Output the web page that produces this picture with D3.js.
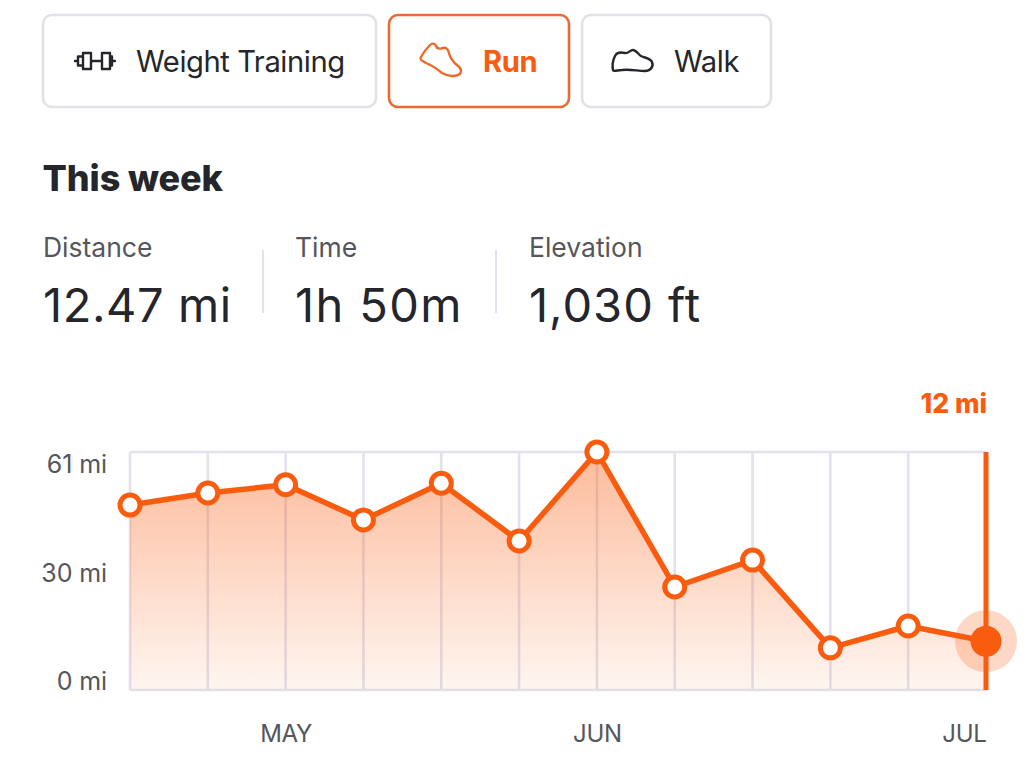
<!DOCTYPE html>
<html><head><meta charset="utf-8">
<script src="https://cdn.jsdelivr.net/npm/d3@7"></script>
<style>html,body{margin:0;padding:0;background:#fff;overflow:hidden}svg{display:block}text{font-family:Inter,"Noto Sans",sans-serif}</style>
</head><body><svg id="c" width="1024" height="766"></svg>
<script>
const weeks = d3.range(12);
const miles = [47.4, 50.5, 52.6, 43.6, 53.0, 38.2, 61.0, 26.4, 33.3, 10.8, 16.4, 12.5];
const yTicks = [0, 30, 61];
const yTickLabels = ["0 mi", "30 mi", "61 mi"];
const monthWeeks = [2, 6, 11];
const monthLabels = ["MAY", "JUN", "JUL"];
const stats = [["Distance", "12.47 mi"], ["Time", "1h 50m"], ["Elevation", "1,030 ft"]];
const tabs = ["Weight Training", "Run", "Walk"];
const currentLabel = "12 mi";

const ORANGE = "#f95c0f", INK = "#24262b", GREY = "#54565c", RULE = "#e2e2ee";
const svg = d3.select("#c");
const x = d3.scaleLinear().domain([0, 11]).range([130, 986]);
const y = d3.scaleLinear().domain([0, 61]).range([690, 452]);

// Tabs
const tabBox = [[43, 333], [389, 180], [582, 189]];
const tabText = [136, 483, 674];
tabs.forEach((t, i) => {
  const on = i === 1;
  svg.append("rect").attr("x", tabBox[i][0]).attr("y", 15).attr("width", tabBox[i][1]).attr("height", 92).attr("rx", 9)
    .attr("fill", "#fff").attr("stroke", on ? "#e96a33" : "#e1e2e8").attr("stroke-width", 2.6);
  svg.append("text").attr("x", tabText[i]).attr("y", 72).attr("font-size", 29.2).attr("letter-spacing", -0.45)
    .attr("font-weight", on ? 700 : 400).attr("fill", on ? ORANGE : INK).text(t);
});
// Icons
const icon = svg.append("g").attr("fill", "none").attr("stroke-width", 2.4).attr("stroke-linejoin", "round").attr("stroke-linecap", "round");
icon.append("path").attr("stroke", INK).attr("d",
  "M75 61h3M112 61h3M91 61h11M78 56.5h5v9h-5zM83 53h8v16h-8zM102 53h8v16h-8zM110 56.5h2v9h-2z");
icon.append("path").attr("stroke", "#ee6a2c").attr("d",
  "M421 57C423 53 427 48 430 45 432 43 435 43 436 46 437 49 440 49 443 48 446 47 448 49 449 53 450 58 453 62 458 66 462 69 462 73 458 75 452 77 447 76 442 73 436 68 431 65 426 63 423 61 419 60 421 57z");
icon.append("path").attr("stroke", INK).attr("d",
  "M613 70C612 65 613 60 615 56 617 52 621 52 625 53 628 54 630 50 633 50 636 50 638 54 641 56 645 58 650 58 652 62 654 67 650 71 645 71 638 71 630 69 622 70 618 70 613 72 613 70z");

// Title and stats
svg.append("text").attr("x", 42.5).attr("y", 191).attr("font-size", 36).attr("font-weight", 800).attr("letter-spacing", -0.1).attr("fill", INK).text("This week");
const statX = [43, 295, 529];
const valueSpacing = [0.6, 1.4, 1.0];
stats.forEach((s, i) => {
  svg.append("text").attr("x", statX[i]).attr("y", 257).attr("font-size", 26.5).attr("letter-spacing", 0).attr("fill", GREY).text(s[0]);
  svg.append("text").attr("x", statX[i]).attr("y", 322).attr("font-size", 47).attr("letter-spacing", valueSpacing[i]).attr("fill", INK).text(s[1]);
});
[263, 496].forEach(v => svg.append("line").attr("x1", v).attr("x2", v).attr("y1", 250).attr("y2", 313).attr("stroke", RULE).attr("stroke-width", 2));

// Gradient
const grad = svg.append("defs").append("linearGradient").attr("id", "g").attr("gradientUnits", "userSpaceOnUse")
  .attr("x1", 0).attr("x2", 0).attr("y1", y(61)).attr("y2", y(0));
grad.append("stop").attr("offset", 0).attr("stop-color", ORANGE).attr("stop-opacity", 0.42);
grad.append("stop").attr("offset", 1).attr("stop-color", ORANGE).attr("stop-opacity", 0.06);

// Grid
svg.append("g").selectAll("line").data(weeks.slice(0, -1)).join("line")
  .attr("x1", d => x(d)).attr("x2", d => x(d)).attr("y1", y(61)).attr("y2", y(0))
  .attr("stroke", RULE).attr("stroke-width", 2.6);
svg.append("line").attr("x1", x(0)).attr("x2", x(11)).attr("y1", y(61)).attr("y2", y(61)).attr("stroke", RULE).attr("stroke-width", 2.6);
svg.append("line").attr("x1", x(0)).attr("x2", x(11)).attr("y1", y(0)).attr("y2", y(0)).attr("stroke", RULE).attr("stroke-width", 2.6);

// Area and line
svg.append("path").datum(miles).attr("fill", "url(#g)")
  .attr("d", d3.area().x((d, i) => x(i)).y0(y(0)).y1(d => y(d)));
svg.append("line").attr("x1", x(11)).attr("x2", x(11)).attr("y1", y(61)).attr("y2", y(0)).attr("stroke", ORANGE).attr("stroke-width", 5);
svg.append("path").datum(miles).attr("fill", "none").attr("stroke", ORANGE).attr("stroke-width", 5.5).attr("stroke-linejoin", "round")
  .attr("d", d3.line().x((d, i) => x(i)).y(d => y(d)));
svg.append("g").selectAll("circle").data(miles.slice(0, -1)).join("circle")
  .attr("cx", (d, i) => x(i)).attr("cy", d => y(d)).attr("r", 10)
  .attr("fill", "#fff").attr("stroke", ORANGE).attr("stroke-width", 5);
const last = miles[miles.length - 1];
svg.append("circle").attr("cx", x(11)).attr("cy", y(last)).attr("r", 31).attr("fill", ORANGE).attr("fill-opacity", 0.24);
svg.append("circle").attr("cx", x(11)).attr("cy", y(last)).attr("r", 15.5).attr("fill", ORANGE);
svg.append("text").attr("x", 987).attr("y", 413).attr("text-anchor", "end").attr("font-size", 26.5).attr("font-weight", 800).attr("letter-spacing", 0).attr("fill", ORANGE).text(currentLabel);

// Axes
const tickShift = {0: -9, 30: 0, 61: 12};
const yAxis = svg.append("g").attr("transform", "translate(107,0)")
  .call(d3.axisLeft(y).tickValues(yTicks).tickSize(0).tickPadding(0).tickFormat((d, i) => yTickLabels[i]));
yAxis.select(".domain").remove();
yAxis.selectAll("text").attr("dy", d => (tickShift[d] + 8.5) + "px").attr("font-size", 25).attr("letter-spacing", -0.1).attr("fill", GREY).style("font-family", 'Inter,"Noto Sans",sans-serif');
const xAxis = svg.append("g").attr("transform", "translate(0,733)")
  .call(d3.axisBottom(x).tickValues(monthWeeks).tickSize(0).tickPadding(0).tickFormat((d, i) => monthLabels[i]));
xAxis.select(".domain").remove();
xAxis.selectAll("text").attr("y", 0).attr("dy", "8.5px").attr("font-size", 24).attr("letter-spacing", -0.3).attr("fill", GREY).style("font-family", 'Inter,"Noto Sans",sans-serif');
xAxis.selectAll("text").filter(d => d === 11).attr("text-anchor", "end");
</script></body></html>
